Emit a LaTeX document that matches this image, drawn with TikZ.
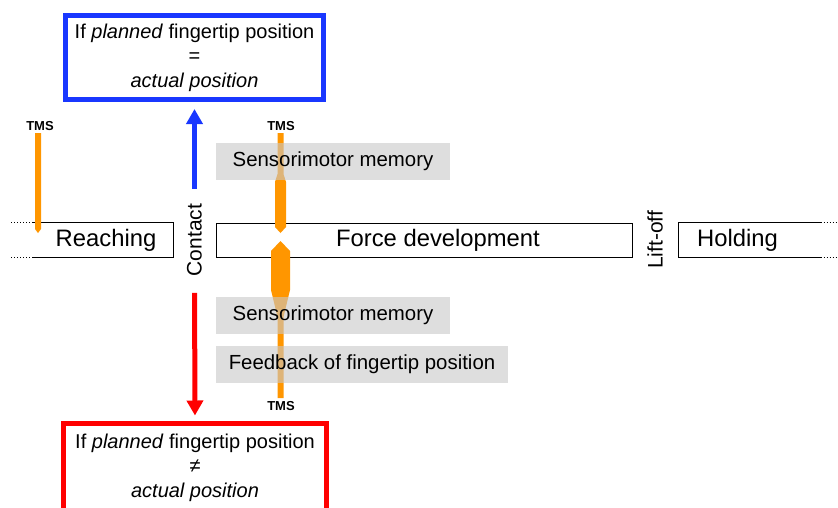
\documentclass[tikz,border=0pt]{standalone}
\usepackage{fontspec}
\setmainfont{Liberation Sans}
\usetikzlibrary{arrows.meta}
\definecolor{tmsorange}{RGB}{255,150,0}
\definecolor{okblue}{RGB}{25,55,255}
\definecolor{errred}{RGB}{255,0,0}
\definecolor{memgray}{RGB}{200,200,200}

\begin{document}
\begin{tikzpicture}[x=1pt,y=-1pt,
  phase/.style={minimum width=#1,minimum height=34pt,inner sep=0pt,line width=1pt,font=\fontsize{23.8}{28}\selectfont},
  memo/.style={fill=memgray,fill opacity=0.6,text opacity=1,minimum width=#1,minimum height=37pt,inner sep=0pt,font=\fontsize{20.4}{24}\selectfont},
  result/.style={line width=5pt,minimum width=258pt,minimum height=84pt,align=center,font=\fontsize{20}{24.5}\selectfont},
  tms/.style={font=\bfseries\fontsize{13}{15}\selectfont},
  event/.style={rotate=90,inner sep=0pt,font=\fontsize{21}{24}\selectfont},
  goarrow/.style={draw=#1,line width=5pt,-{Triangle[width=16pt,length=15pt]}}]

\useasboundingbox (0,0) rectangle (838,507);

\node[result,draw=okblue] (equal) at (194.5,57.5)
{If \textit{planned} fingertip position\\=\\\textit{actual position}};
\node[result] (differ) at (195,467.5)
{If \textit{planned} fingertip position\\≠\\\textit{actual position}};
\draw[errred,line width=5pt] ([yshift=-12pt]differ.south west) -- (differ.north west)
  -- (differ.north east) -- ([yshift=-12pt]differ.south east);

\node[phase=140pt] (reach) at (103,240) {\hspace*{6pt}Reaching};
\node[phase=416pt,draw] (force) at (424,240) {\hspace*{28pt}Force development};
\node[phase=141pt] (hold) at (749.5,240) {Holding\hspace*{24pt}};
\begin{scope}[line width=1pt]
\draw (reach.north west) -- (reach.north east) -- (reach.south east) -- (reach.south west);
\draw (hold.north east) -- (hold.north west) -- (hold.south west) -- (hold.south east);
\draw[dotted] (reach.north west) -- ++(-23,0) (reach.south west) -- ++(-23,0);
\draw[dotted] (hold.north east) -- ++(18,0) (hold.south east) -- ++(18,0);
\end{scope}

\node[event] (contact) at (194.5,240) {Contact};
\node[event] (liftoff) at (655,240) {Lift-off};

\draw[goarrow=okblue,shorten <=15pt,shorten >=7pt] (contact.east) -- (equal.south);
\draw[goarrow=errred,shorten <=16.5pt,shorten >=7.5pt] (contact.west) -- (differ.north);

\foreach \n/\x/\y in {reach/40/126,before/281/126,after/281/406}
  \node[tms] (tms\n) at (\x,\y) {TMS};

\fill[tmsorange] (35,133) -- (41,133) -- (41,229) -- (38,233) -- (35,229) -- cycle;
\fill[tmsorange] (277.5,133) -- (283.5,133) -- (283.5,174) -- (286,182) -- (286,227)
  -- (280.5,233) -- (275,227) -- (275,182) -- (277.5,174) -- cycle;
\fill[tmsorange] (280.5,241) -- (290,251) -- (290,290) -- (283.5,317) -- (283.5,398)
  -- (277.5,398) -- (277.5,317) -- (271,290) -- (271,251) -- cycle;

\node[memo=234pt] (memplan) at (333,161.5) {Sensorimotor memory};
\node[memo=234pt] (memcheck) at (333,315) {Sensorimotor memory};
\node[memo=292pt] (feedback) at (362,364) {Feedback of fingertip position};

\end{tikzpicture}
\end{document}
